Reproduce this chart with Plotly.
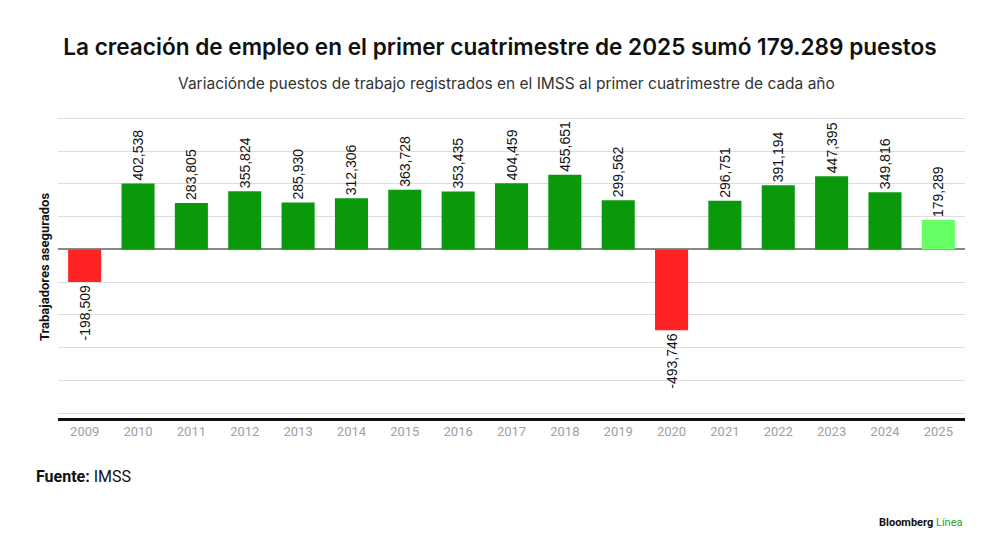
import plotly.graph_objects as go

years = [str(y) for y in range(2009, 2026)]
values = [-198509, 402538, 283805, 355824, 285930, 312306, 363728, 353435,
          404459, 455651, 299562, -493746, 296751, 391194, 447395, 349816, 179289]

GREEN = "#0a990a"
RED = "#ff2323"
LIGHT_GREEN = "#66ff66"

colors = []
for yr, v in zip(years, values):
    if yr == "2025":
        colors.append(LIGHT_GREEN)
    elif v < 0:
        colors.append(RED)
    else:
        colors.append(GREEN)

fig = go.Figure()
fig.add_trace(go.Bar(
    x=years, y=values,
    marker=dict(color=colors, line=dict(width=0)),
    texttemplate="%{y:,}",
    textposition="outside",
    textangle=-90,
    constraintext="none",
    textfont=dict(family="Liberation Sans, Arial", size=14, color="#111111"),
    cliponaxis=False,
    hoverinfo="x+y",
))

fig.update_layout(
    width=1000, height=548,
    margin=dict(l=58, r=35, t=116, b=130),
    paper_bgcolor="white",
    plot_bgcolor="white",
    bargap=0.38,
    showlegend=False,
    font=dict(family="Inter, Roboto, sans-serif"),
    title=dict(
        text="La creación de empleo en el primer cuatrimestre de 2025 sumó 179.289 puestos",
        x=0.5, xanchor="center", y=0.914, yanchor="middle",
        font=dict(family="Inter", size=22.6, color="#111111", weight=600),
    ),
    xaxis=dict(
        type="category",
        automargin=False,
        showgrid=False,
        showline=True, linecolor="#111111", linewidth=2.5,
        ticks="", tickfont=dict(family="Roboto", size=13, color="#a0a0a0"),
        fixedrange=True,
    ),
    yaxis=dict(
        range=[-1030000, 815000],
        dtick=200000,
        automargin=False,
        showticklabels=False,
        showgrid=True, gridcolor="#dddddd", gridwidth=1,
        zeroline=True, zerolinecolor="#888888", zerolinewidth=1.5,
        title=dict(text="<b>Trabajadores asegurados</b>",
                   font=dict(family="Roboto", size=13, color="#111111"),
                   standoff=4),
        fixedrange=True,
    ),
)

# subtitle
fig.add_annotation(
    text="Variaciónde puestos de trabajo registrados en el IMSS al primer cuatrimestre de cada año",
    xref="paper", yref="paper", x=0.495, y=1, yshift=33,
    xanchor="center", yanchor="middle", showarrow=False,
    font=dict(family="Inter", size=15.5, color="#333333"),
)
fig.add_annotation(
    text="<b>Fuente:</b> IMSS",
    xref="paper", yref="paper", x=0, xshift=-24, y=0, yshift=-58,
    xanchor="left", yanchor="middle", showarrow=False,
    font=dict(family="Roboto", size=16, color="#111111"),
)
fig.add_annotation(
    text="<b>Bloomberg</b> <span style='color:#2aa02a'>Línea</span>",
    xref="paper", yref="paper", x=1, y=0, yshift=-104,
    xanchor="right", yanchor="middle", showarrow=False,
    font=dict(family="Roboto", size=11, color="#111111"),
)

# page body has a default margin; remove it so the figure sits at 0,0
fig.write_html("out.html", config={"displayModeBar": False},
               post_script="document.body.style.margin='0';")
